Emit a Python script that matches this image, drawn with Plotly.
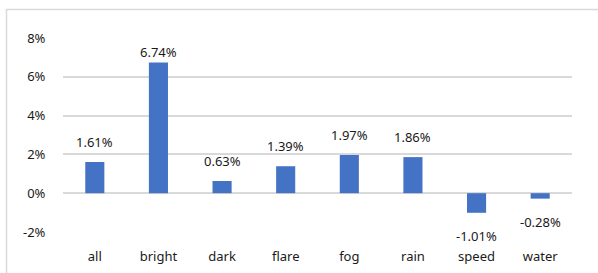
import plotly.graph_objects as go

categories = ["all", "bright", "dark", "flare", "fog", "rain", "speed", "water"]
values = [1.61, 6.74, 0.63, 1.39, 1.97, 1.86, -1.01, -0.28]
labels = [f"{v:.2f}%" for v in values]
y_ticks = [-2, 0, 2, 4, 6, 8]
y_tick_text = [f"{t}%" for t in y_ticks]

font = dict(family="Noto Sans, Open Sans, sans-serif", size=13, color="#1a1a1a")

fig = go.Figure(go.Bar(
    x=categories, y=values,
    marker=dict(color="#4472C4", line=dict(width=0)),
    cliponaxis=False, width=0.3, hoverinfo="skip",
))

# data labels: outside end, kept inside the plot area near the top
annotations = []
for c, v, t in zip(categories, values, labels):
    if v >= 0:
        ly, shift = min(v + 1.03, 7.3), 0
    else:
        ly, shift = v, -23
    annotations.append(dict(x=c, y=ly, yshift=shift, text=t, showarrow=False,
                            font=font, xanchor="center", yanchor="middle"))

fig.update_layout(
    width=598, height=273,
    margin=dict(l=63, r=26, t=38, b=41, autoexpand=False),
    paper_bgcolor="white", plot_bgcolor="white",
    font=font, showlegend=False,
    annotations=annotations,
    xaxis=dict(showgrid=False, showline=False, ticks="outside", ticklen=12,
               tickcolor="rgba(0,0,0,0)", tickfont=font, automargin=False),
    yaxis=dict(range=[-2, 8], tickvals=y_ticks, ticktext=y_tick_text,
               showgrid=True, gridcolor="#d9d9d9", gridwidth=2,
               zeroline=True, zerolinecolor="#d9d9d9", zerolinewidth=2,
               showline=False, ticks="outside", ticklen=14,
               tickcolor="rgba(0,0,0,0)", tickfont=font, automargin=False),
    shapes=[dict(type="rect", xref="paper", yref="paper",
                 x0=(6.5 - 63) / 509, x1=1.2, y0=-0.4, y1=(232 - 9.5) / 194,
                 line=dict(color="#d9d9d9", width=1.5), fillcolor="rgba(0,0,0,0)",
                 layer="above")],
)

fig.write_html("out.html", config={"displayModeBar": False},
               post_script="document.body.style.margin='0';document.body.style.overflow='hidden';")
